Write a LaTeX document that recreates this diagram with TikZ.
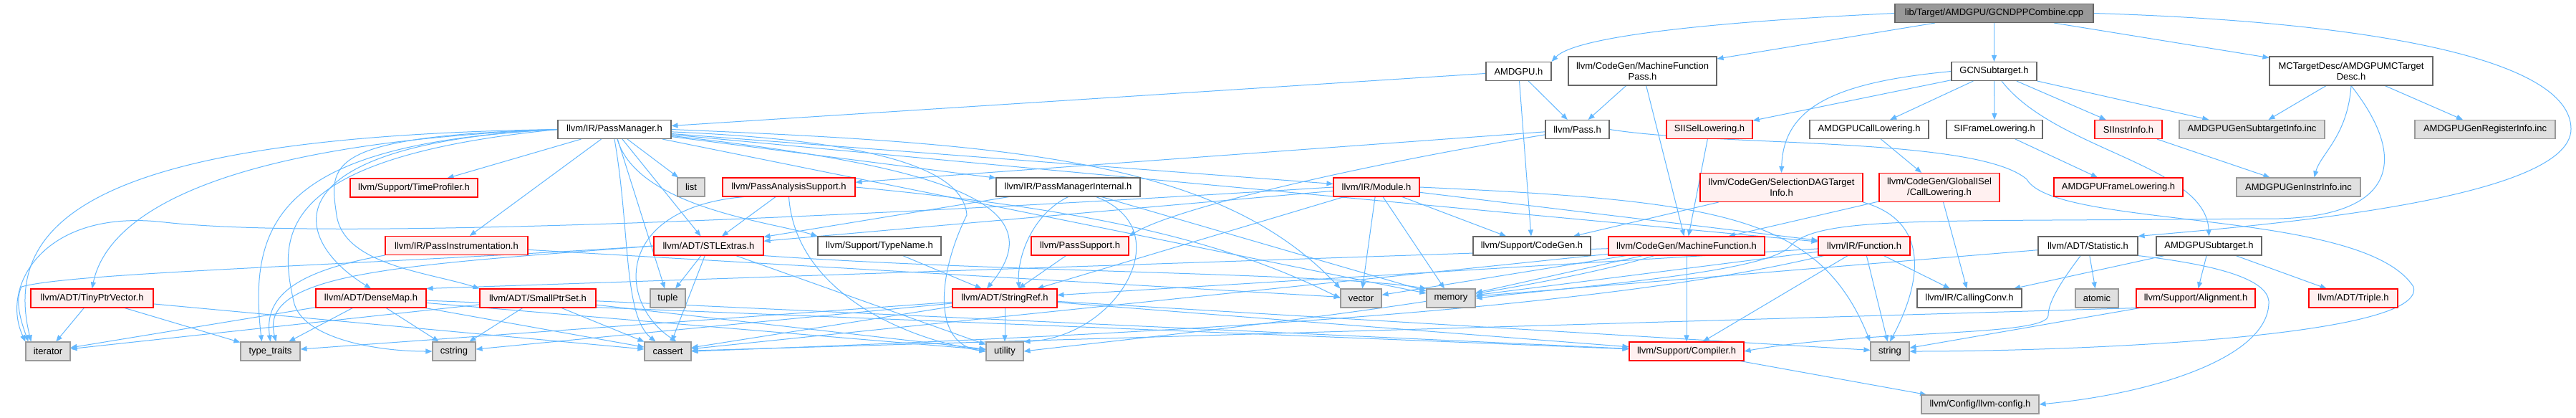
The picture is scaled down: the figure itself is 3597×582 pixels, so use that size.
\documentclass[tikz,border=0pt]{standalone}
\usepackage{fontspec}
\setmainfont{Liberation Sans}
\usetikzlibrary{arrows.meta,backgrounds}
\definecolor{edgeblue}{RGB}{99,184,255}
\definecolor{redfill}{RGB}{255,240,240}
\definecolor{greyfill}{RGB}{224,224,224}
\definecolor{darkframe}{RGB}{102,102,102}
\definecolor{greyframe}{RGB}{153,153,153}

\begin{document}
\begin{tikzpicture}[x=1pt,y=-1pt,
    every node/.style={font=\fontsize{13}{15}\selectfont, inner sep=0pt,
      line width=1.1pt, align=center, minimum height=26pt},
    hdr/.style={draw=darkframe, fill=white},
    redbox/.style={draw=red, fill=redfill},
    sysbox/.style={draw=greyframe, fill=greyfill},
    rootbox/.style={draw=darkframe, fill=greyframe},
    incl/.style={draw=edgeblue, line width=1pt,
      -{Triangle[length=9pt,width=7pt]}}]
  \useasboundingbox (0,0) rectangle (3597,582);

  % row 0 and 1
  \node[rootbox, minimum width=277pt] (root) at (2784.5,18.5) {lib/Target/AMDGPU/GCNDPPCombine.cpp};
  \node[hdr, minimum width=91pt] (amdgpu) at (2120.5,99.5) {AMDGPU.h};
  \node[hdr, minimum width=207pt, minimum height=40pt] (mfp) at (2293.5,99) {llvm/CodeGen/MachineFunction\\Pass.h};
  \node[hdr, minimum width=119pt] (gcnst) at (2784.5,99.5) {GCNSubtarget.h};
  \node[hdr, minimum width=228pt, minimum height=40pt] (mctd) at (3283,99) {MCTargetDesc/AMDGPUMCTarget\\Desc.h};

  % row 2
  \node[hdr, minimum width=158pt] (pm) at (858,180.5) {llvm/IR/PassManager.h};
  \node[hdr, minimum width=89pt] (pass) at (2202.5,180.5) {llvm/Pass.h};
  \node[redbox, minimum width=120pt] (siisel) at (2387,180.5) {SIISelLowering.h};
  \node[hdr, minimum width=166pt] (amdcl) at (2610,180.5) {AMDGPUCallLowering.h};
  \node[hdr, minimum width=134pt] (sifl) at (2785,180.5) {SIFrameLowering.h};
  \node[redbox, minimum width=94pt] (siii) at (2972,180.5) {SIInstrInfo.h};
  \node[sysbox, minimum width=203pt] (gensub) at (3144.5,180.5) {AMDGPUGenSubtargetInfo.inc};
  \node[sysbox, minimum width=196pt] (genreg) at (3470,180.5) {AMDGPUGenRegisterInfo.inc};

  % row 3
  \node[redbox, minimum width=178pt] (timeprof) at (578,262) {llvm/Support/TimeProfiler.h};
  \node[sysbox, minimum width=38pt] (list) at (965,261) {list};
  \node[redbox, minimum width=185pt] (pas) at (1101.5,261) {llvm/PassAnalysisSupport.h};
  \node[hdr, minimum width=201pt] (pmi) at (1491.5,261) {llvm/IR/PassManagerInternal.h};
  \node[redbox, minimum width=120pt] (module) at (1922,261) {llvm/IR/Module.h};
  \node[redbox, minimum width=227pt, minimum height=40pt] (sdag) at (2487.5,261.5) {llvm/CodeGen/SelectionDAGTarget\\Info.h};
  \node[redbox, minimum width=168pt, minimum height=40pt] (gcl) at (2708,261.5) {llvm/CodeGen/GlobalISel\\/CallLowering.h};
  \node[redbox, minimum width=180pt] (amdfl) at (2958,261) {AMDGPUFrameLowering.h};
  \node[sysbox, minimum width=173pt] (geninstr) at (3209.5,261) {AMDGPUGenInstrInfo.inc};

  % row 4
  \node[redbox, minimum width=199pt] (passinst) at (637.5,342.5) {llvm/IR/PassInstrumentation.h};
  \node[redbox, minimum width=153pt] (stl) at (989.5,343) {llvm/ADT/STLExtras.h};
  \node[hdr, minimum width=172pt] (typename) at (1228,343) {llvm/Support/TypeName.h};
  \node[redbox, minimum width=136pt] (passsup) at (1508,343) {llvm/PassSupport.h};
  \node[hdr, minimum width=164pt] (codegen) at (2139,343) {llvm/Support/CodeGen.h};
  \node[redbox, minimum width=218pt] (mf) at (2355,343) {llvm/CodeGen/MachineFunction.h};
  \node[redbox, minimum width=128pt] (func) at (2603,343) {llvm/IR/Function.h};
  \node[hdr, minimum width=139pt] (stat) at (2915.5,343) {llvm/ADT/Statistic.h};
  \node[hdr, minimum width=147pt] (amdst) at (3084.5,343) {AMDGPUSubtarget.h};

  % row 5
  \node[redbox, minimum width=171pt] (tpv) at (128.5,416) {llvm/ADT/TinyPtrVector.h};
  \node[redbox, minimum width=154pt] (densemap) at (518,416) {llvm/ADT/DenseMap.h};
  \node[redbox, minimum width=162pt] (sps) at (751,416) {llvm/ADT/SmallPtrSet.h};
  \node[sysbox, minimum width=49pt] (tuple) at (932.5,416) {tuple};
  \node[redbox, minimum width=146pt] (strref) at (1403,416) {llvm/ADT/StringRef.h};
  \node[sysbox, minimum width=57pt] (vector) at (1900.5,416) {vector};
  \node[sysbox, minimum width=68pt] (memory) at (2026,416) {memory};
  \node[hdr, minimum width=146pt] (cc) at (2750,416) {llvm/IR/CallingConv.h};
  \node[sysbox, minimum width=60pt] (atomic) at (2928,416) {atomic};
  \node[redbox, minimum width=166pt] (align) at (3066,416) {llvm/Support/Alignment.h};
  \node[redbox, minimum width=124pt] (triple) at (3286,416) {llvm/ADT/Triple.h};

  % row 6 and 7
  \node[sysbox, minimum width=62pt] (iterator) at (67,490) {iterator};
  \node[sysbox, minimum width=83pt] (traits) at (377.5,490) {type\_traits};
  \node[sysbox, minimum width=60pt] (cstring) at (634,490) {cstring};
  \node[sysbox, minimum width=65pt] (cassert) at (932.5,490) {cassert};
  \node[sysbox, minimum width=52pt] (utility) at (1403,490) {utility};
  \node[redbox, minimum width=160pt] (compiler) at (2355,490) {llvm/Support/Compiler.h};
  \node[sysbox, minimum width=54pt] (string) at (2639,490) {string};
  \node[sysbox, minimum width=164pt] (llvmcfg) at (2765,564) {llvm/Config/llvm-config.h};

  \begin{scope}[on background layer]
    \fill[white] (0,0) rectangle (3597,582);
    % includes of the source file
    \foreach \t in {mfp,gcnst,mctd} \draw[incl] (root) -- (\t);
    \draw[incl] (root.west) .. controls (2400,30) and (2200,50) .. (amdgpu.north east);
    \draw[incl] (root.east) .. controls (3300,30) and (3590,80) .. (3590,180)
      .. controls (3590,280) and (3150,315) .. (stat.north east);
    % AMDGPU.h, MachineFunctionPass.h
    \foreach \t in {pm,pass,codegen} \draw[incl] (amdgpu) -- (\t);
    \foreach \t in {pass,mf} \draw[incl] (mfp) -- (\t);
    % GCNSubtarget.h
    \foreach \t in {siisel,amdcl,sifl,siii,gensub} \draw[incl] (gcnst) -- (\t);
    \draw[incl] (gcnst.west) .. controls (2560,115) and (2490,150) .. (sdag.north);
    \draw[incl] (gcnst) .. controls (2870,210) and (3080,230) .. (amdst.north);
    % MCTargetDesc
    \foreach \t in {gensub,genreg} \draw[incl] (mctd) -- (\t);
    \draw[incl] (mctd.south) .. controls (3278,190) and (3240,215) .. ([xshift=22pt]geninstr.north);
    \draw[incl] (mctd.south) .. controls (3370,230) and (3340,310) .. (3150,305)
      .. controls (2700,310) and (2540,300) .. (2500,343)
      .. controls (2470,380) and (2200,400) .. (memory.east);
    % PassManager.h
    \foreach \t in {timeprof,passinst,stl,tuple,list,pmi,module,memory,func} \draw[incl] (pm) -- (\t);
    \draw[incl] (pm.west) .. controls (150,190) and (0,300) .. ([xshift=8pt]iterator.north west);
    \draw[incl] (pm.west) .. controls (300,200) and (150,300) .. (tpv.north);
    \draw[incl] (pm.west) .. controls (400,200) and (345,300) .. ([xshift=-12pt]traits.north);
    \draw[incl] (pm.west) .. controls (380,220) and (390,330) .. (410,420)
      .. controls (420,470) and (520,490) .. (cstring.west);
    \draw[incl] (pm.west) .. controls (380,200) and (400,330) .. (densemap.north);
    \draw[incl] (pm.west) .. controls (450,190) and (460,230) .. (470,300)
      .. controls (480,370) and (600,380) .. (sps.north west);
    \draw[incl] (pm.south) .. controls (880,320) and (870,440) .. ([xshift=-17pt]cassert.north);
    \draw[incl] (pm) .. controls (890,290) and (1080,310) .. (typename.north west);
    \draw[incl] (pm) .. controls (1300,230) and (1480,280) .. ([xshift=-25pt]strref.north);
    \draw[incl] (pm) .. controls (1200,195) and (1345,230) .. (1350,300)
      .. controls (1310,380) and (1300,480) .. (utility.west);
    \draw[incl] (pm.east) .. controls (1400,200) and (1700,220) .. (vector.north west);
    % Pass.h
    \draw[incl] (pass) -- (pas);
    \draw[incl] (pass) .. controls (1900,230) and (1640,290) .. (passsup.north east);
    \draw[incl] (pass.east) .. controls (2400,205) and (2760,190) .. (2830,250)
      .. controls (2870,320) and (3300,290) .. (3370,400)
      .. controls (3390,470) and (2900,490) .. (string.east);
    % PassAnalysisSupport.h, PassManagerInternal.h
    \draw[incl] (pas) -- (stl);
    \draw[incl] ([xshift=30pt]pas.south west) .. controls (860,290) and (860,420) .. ([xshift=12pt]cassert.north);
    \draw[incl] (pas.south) .. controls (1110,400) and (1250,470) .. (utility.west);
    \draw[incl] (pas.east) .. controls (1500,290) and (1700,330) .. (vector.west);
    \foreach \t in {stl,memory} \draw[incl] (pmi) -- (\t);
    \draw[incl] (pmi.south) .. controls (1440,300) and (1420,360) .. ([xshift=20pt]strref.north);
    \draw[incl] ([xshift=140pt]pmi.south west) .. controls (1650,320) and (1560,470) .. (utility.north east);
    \draw[incl] (passsup) -- (strref);
    \draw[incl] (typename) -- (strref);
    % Module.h
    \foreach \t in {stl,strref,func,codegen,memory,vector} \draw[incl] (module) -- (\t);
    \draw[incl] (module.west) .. controls (1400,290) and (500,340) .. (230,310)
      .. controls (60,290) and (0,400) .. (iterator.north west);
    \draw[incl] (module.east) .. controls (2400,280) and (2540,300) .. (string.north west);
    % CodeGen and target headers
    \draw[incl] (sdag) -- (codegen);
    \draw[incl] (sdag.south east) .. controls (2700,310) and (2680,400) .. (string.north);
    \foreach \t in {cc,mf} \draw[incl] (gcl) -- (\t);
    \draw[incl] (amdcl) -- (gcl);
    \draw[incl] (sifl) -- (amdfl);
    \draw[incl] (siii) -- (geninstr);
    \draw[incl] (siisel) -- (mf);
    \foreach \t in {memory,vector,cassert,compiler} \draw[incl] (mf) -- (\t);
    \draw[incl] (mf) -- (densemap.north east);
    \draw[incl] (mf) .. controls (2100,420) and (1600,470) .. (utility.east);
    \foreach \t in {cc,string,compiler,memory,strref} \draw[incl] (func) -- (\t);
    \draw[incl] (func) .. controls (2200,440) and (1500,470) .. (cassert.east);
    \foreach \t in {atomic,memory} \draw[incl] (stat) -- (\t);
    \draw[incl] (stat) .. controls (2880,390) and (2860,420) .. (2860,440)
      .. controls (2860,470) and (2600,460) .. (compiler.east);
    \draw[incl] (stat.south east) .. controls (3100,370) and (3165,390) .. (3168,420)
      .. controls (3170,500) and (3000,550) .. (llvmcfg.east);
    \foreach \t in {cc,align,triple} \draw[incl] (amdst) -- (\t);
    \draw[incl] (align.south west) -- (cassert);
    \draw[incl] (align) -- (string);
    \draw[incl] (compiler) -- (llvmcfg);
    % ADT headers
    \foreach \t in {utility,cassert,cstring,traits,compiler,string} \draw[incl] (strref) -- (\t);
    \foreach \t in {iterator,traits,cstring,cassert,utility,compiler} \draw[incl] (densemap) -- (\t);
    \foreach \t in {cstring,cassert,iterator,utility,compiler} \draw[incl] (sps) -- (\t);
    \foreach \t in {iterator,traits,cassert} \draw[incl] (tpv) -- (\t);
    \draw[incl] (passinst.south west) .. controls (400,380) and (370,420) .. (traits.north);
    \draw[incl] (passinst) -- (vector);
    \foreach \t in {tuple,cassert,utility} \draw[incl] (stl) -- (\t);
    \draw[incl] (stl.west) .. controls (500,370) and (100,380) .. (30,400)
      .. controls (20,420) and (30,450) .. ([xshift=4pt]iterator.north west);
    \draw[incl] (stl.west) .. controls (560,370) and (360,380) .. ([xshift=8pt]traits.north);
    \draw[incl] (stl.south east) .. controls (1400,380) and (1850,380) .. (memory.north west);
  \end{scope}
\end{tikzpicture}
\end{document}
